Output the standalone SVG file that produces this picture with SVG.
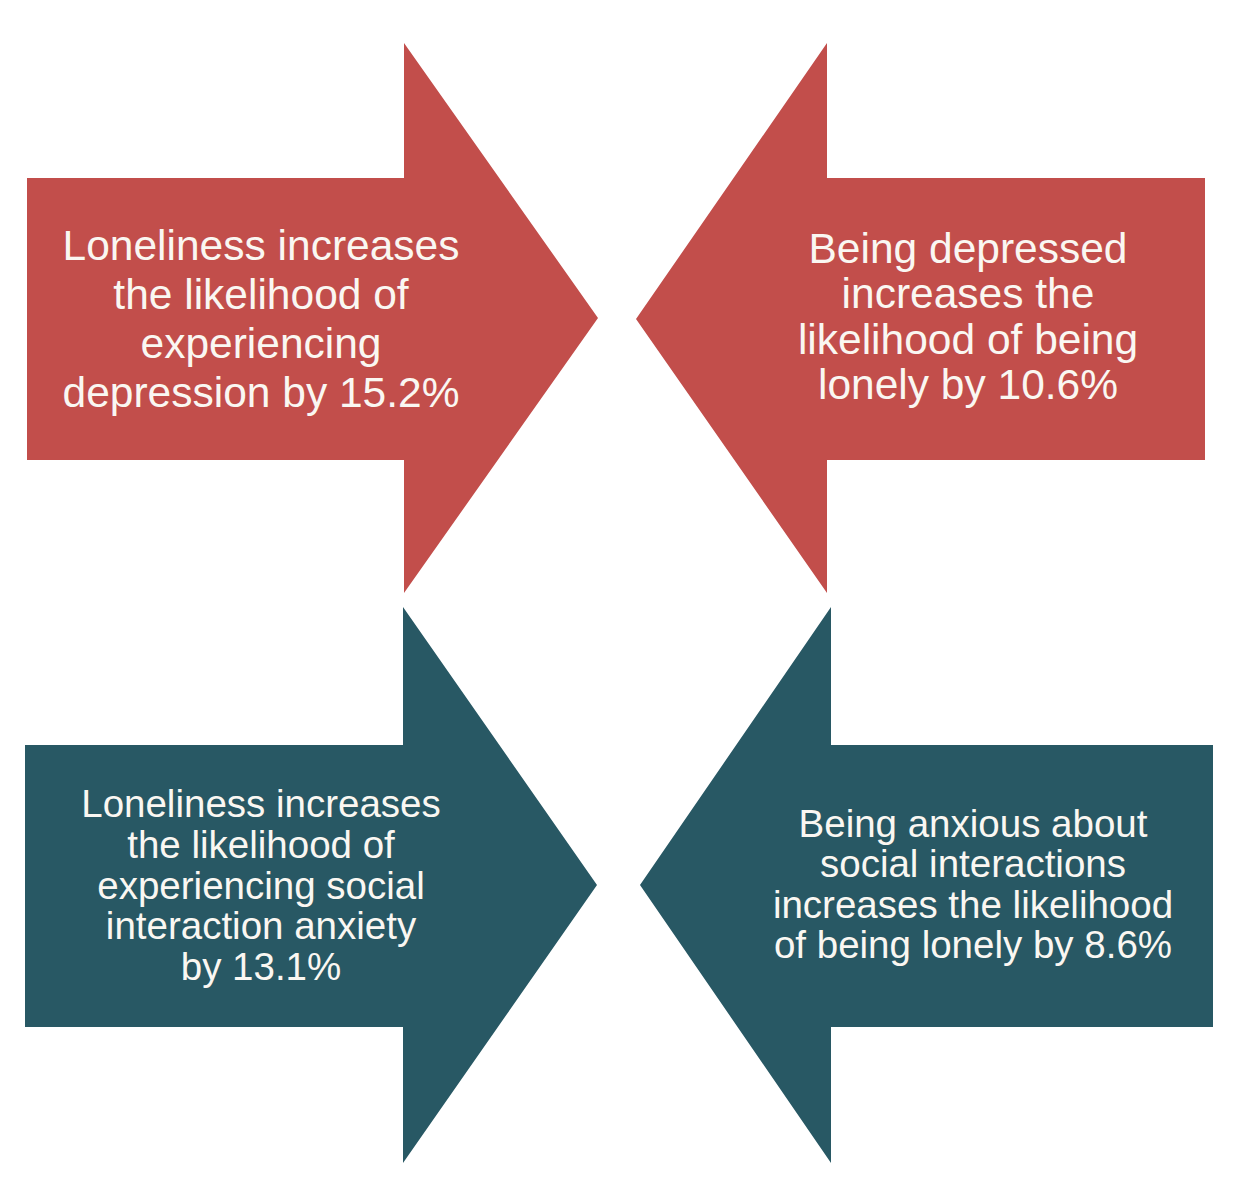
<svg xmlns="http://www.w3.org/2000/svg" width="1246" height="1186" viewBox="0 0 1246 1186">
<style>
.red{fill:#C24E4B}
.teal{fill:#285864}
.t{font-family:"Liberation Sans",Arial,sans-serif;fill:#FAF7F2;text-anchor:middle}
.big{font-size:42.5px}
.sm{font-size:38.5px}
</style>
<rect width="1246" height="1186" fill="#FFFFFF"/>
<g id="arrow-tl">
<polygon class="red" points="27,178 404,178 404,43 598,318 404,593 404,460 27,460"/>
<text class="t big" x="261" y="260">Loneliness increases</text>
<text class="t big" x="261" y="309">the likelihood of</text>
<text class="t big" x="261" y="358">experiencing</text>
<text class="t big" x="261" y="407">depression by 15.2%</text>
</g>
<g id="arrow-tr">
<polygon class="red" points="1205,178 827,178 827,43 636,319 827,593 827,460 1205,460"/>
<text class="t big" x="968" y="263">Being depressed</text>
<text class="t big" x="968" y="308">increases the</text>
<text class="t big" x="968" y="354">likelihood of being</text>
<text class="t big" x="968" y="399">lonely by 10.6%</text>
</g>
<g id="arrow-bl">
<polygon class="teal" points="25,745 403,745 403,607 597,885 403,1163 403,1027 25,1027"/>
<text class="t sm" x="261" y="817">Loneliness increases</text>
<text class="t sm" x="261" y="858">the likelihood of</text>
<text class="t sm" x="261" y="899">experiencing social</text>
<text class="t sm" x="261" y="939">interaction anxiety</text>
<text class="t sm" x="261" y="980">by 13.1%</text>
</g>
<g id="arrow-br">
<polygon class="teal" points="1213,745 831,745 831,607 640,885 831,1163 831,1027 1213,1027"/>
<text class="t sm" x="973" y="837">Being anxious about</text>
<text class="t sm" x="973" y="877">social interactions</text>
<text class="t sm" x="973" y="918">increases the likelihood</text>
<text class="t sm" x="973" y="958">of being lonely by 8.6%</text>
</g>
<g id="connectors"></g>
</svg>
